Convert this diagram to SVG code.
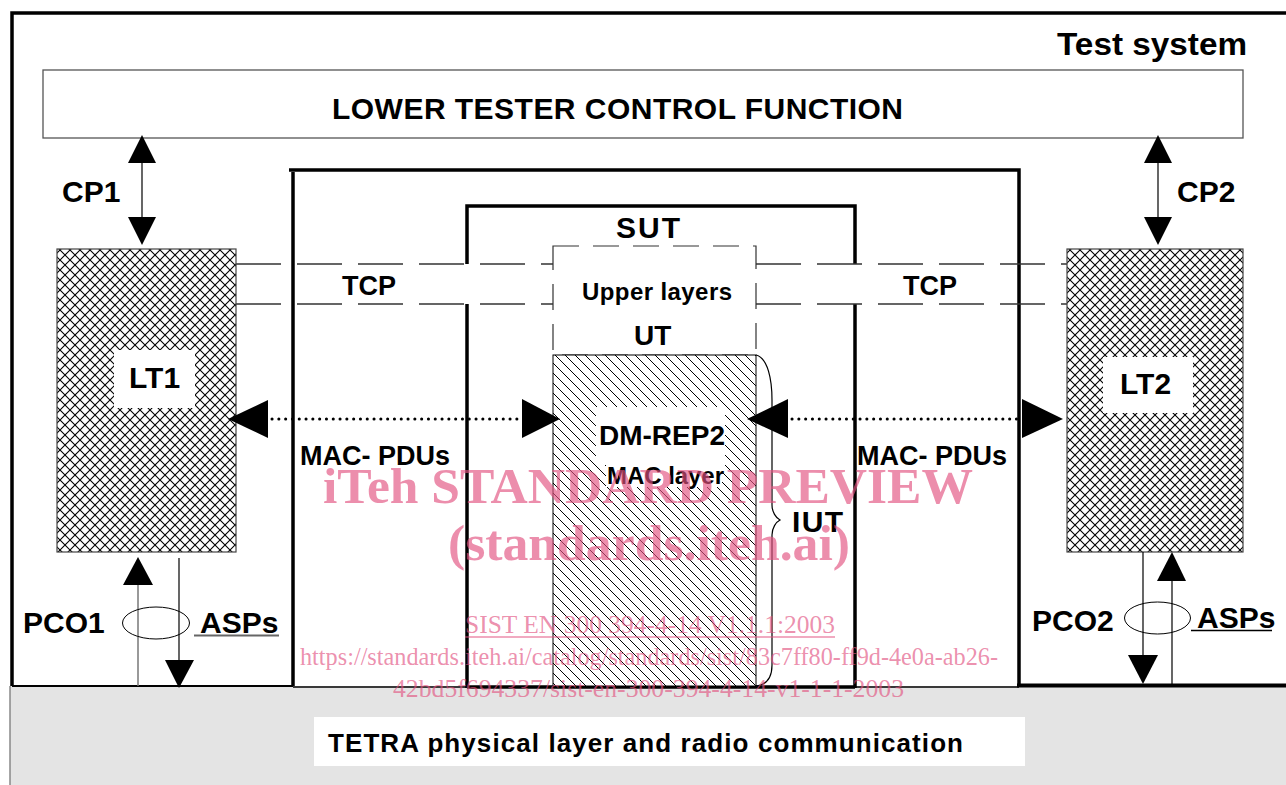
<svg xmlns="http://www.w3.org/2000/svg" width="1286" height="785" viewBox="0 0 1286 785">
<defs>
<pattern id="cross" patternUnits="userSpaceOnUse" width="10" height="10">
<rect width="10" height="10" fill="#fff"/>
<path d="M0,0 L10,10 M10,0 L0,10" stroke="#000" stroke-width="1.1"/>
</pattern>
<pattern id="diag" patternUnits="userSpaceOnUse" width="10" height="10">
<rect width="10" height="10" fill="#fff"/>
<path d="M-2,8 L2,12 M0,0 L10,10 M8,-2 L12,2" stroke="#000" stroke-width="1"/>
</pattern>
<style>
.t{font-family:"Liberation Sans",Arial,sans-serif;font-weight:bold;fill:#000}
.wm{font-family:"Liberation Serif","Times New Roman",serif;fill:#e2517f;fill-opacity:0.65}
.frame{fill:none;stroke:#000;stroke-width:3.5}
.dash{fill:none;stroke:#333;stroke-width:1.4;stroke-dasharray:45 16}
.thin{stroke:#000;stroke-width:1.2;fill:none}
.ah{fill:#000}
.dot{stroke:#000;stroke-width:3;stroke-dasharray:0.1 6.7;stroke-linecap:round;fill:none}
</style>
</defs>
<rect width="1286" height="785" fill="#fff"/>

<g id="ground">
<rect x="10" y="686" width="1276" height="99" fill="#e4e4e4"/>
<line x1="10" y1="686" x2="10" y2="785" stroke="#888" stroke-width="1.5"/>
<rect x="314" y="717" width="711" height="49" fill="#fff"/>
<text class="t" x="328" y="752" font-size="26" textLength="635" lengthAdjust="spacing">TETRA physical layer and radio communication</text>
</g>

<g id="test-system">
<path class="frame" d="M12,686 V13 H1286" stroke-width="3"/>
<text class="t" x="1057" y="55" font-size="31" textLength="190" lengthAdjust="spacingAndGlyphs">Test system</text>
</g>

<g id="ltcf">
<rect x="43" y="70" width="1200" height="68" fill="#fff" stroke="#555" stroke-width="1.3"/>
<text class="t" x="332" y="119" font-size="30" textLength="571" lengthAdjust="spacing">LOWER TESTER CONTROL FUNCTION</text>
</g>

<g id="frame2">
<path class="frame" d="M289,170 H1019 V686"/>
<line class="frame" x1="293" y1="172" x2="293" y2="686"/>
</g>

<g id="sut">
<path class="frame" d="M467,264 V206 H855 V264"/>
<line class="frame" x1="467" y1="304" x2="467" y2="688"/>
<line class="frame" x1="855" y1="304" x2="855" y2="688"/>
<text class="t" x="616" y="238" font-size="30" textLength="64" lengthAdjust="spacing">SUT</text>
</g>

<g id="bottom-lines">
<line x1="12" y1="686" x2="293" y2="686" stroke="#000" stroke-width="2.2"/>
<line x1="293" y1="687" x2="467" y2="687" stroke="#000" stroke-width="1.5"/>
<line x1="467" y1="687" x2="855" y2="687" stroke="#000" stroke-width="3.5"/>
<line x1="855" y1="687" x2="1019" y2="687" stroke="#000" stroke-width="1.5"/>
<line x1="1017" y1="685.5" x2="1286" y2="685.5" stroke="#000" stroke-width="4"/>
</g>

<g id="tcp-left">
<line class="dash" x1="236" y1="264" x2="553" y2="264"/>
<line class="dash" x1="236" y1="304" x2="553" y2="304"/>
<text class="t" x="342" y="295" font-size="27">TCP</text>
</g>
<g id="tcp-right">
<line class="dash" x1="756" y1="264" x2="1067" y2="264"/>
<line class="dash" x1="756" y1="304" x2="1067" y2="304"/>
<text class="t" x="903" y="295" font-size="27">TCP</text>
</g>

<g id="upper-layers">
<rect x="553" y="246" width="203" height="109" fill="#fff" stroke="#333" stroke-width="1.2" stroke-dasharray="26 14"/>
<text class="t" x="582" y="300" font-size="24" textLength="150" lengthAdjust="spacing">Upper layers</text>
<text class="t" x="634" y="345" font-size="28">UT</text>
</g>

<g id="iut">
<rect x="553" y="355" width="203" height="331" fill="url(#diag)" stroke="#000" stroke-width="1"/>
<rect x="596" y="407" width="129" height="58" fill="#fff"/>
<rect x="606" y="465" width="116" height="22" fill="#fff"/>
<text class="t" x="599" y="445" font-size="28" textLength="126" lengthAdjust="spacing">DM-REP2</text>
<text class="t" x="607" y="484" font-size="24" textLength="117" lengthAdjust="spacing">MAC layer</text>
<path class="thin" d="M756,355 C768,358 772,380 772,400 L772,505 C772,512 776,518 780,520 C776,522 772,528 772,535 L772,665 C772,680 765,685 756,686"/>
<text class="t" x="792" y="532" font-size="30" textLength="51" lengthAdjust="spacing">IUT</text>
</g>

<g id="lt1">
<rect x="57" y="249" width="179" height="303" fill="url(#cross)" stroke="#444" stroke-width="1.2"/>
<rect x="114" y="350" width="81" height="58" fill="#fff"/>
<text class="t" x="129" y="388" font-size="30">LT1</text>
</g>

<g id="lt2">
<rect x="1067" y="249" width="176" height="303" fill="url(#cross)" stroke="#444" stroke-width="1.2"/>
<rect x="1103" y="357" width="90" height="56" fill="#fff"/>
<text class="t" x="1120" y="394" font-size="30">LT2</text>
</g>

<g id="connectors">
<!-- CP1 -->
<line class="thin" x1="142" y1="150" x2="142" y2="230"/>
<polygon class="ah" points="142,135 128,163 156,163"/>
<polygon class="ah" points="142,245 128,217 156,217"/>
<!-- CP2 -->
<line class="thin" x1="1158" y1="150" x2="1158" y2="230"/>
<polygon class="ah" points="1158,135 1144,163 1172,163"/>
<polygon class="ah" points="1158,245 1144,217 1172,217"/>
<!-- MAC PDUs left -->
<line class="dot" x1="272" y1="419" x2="520" y2="419"/>
<polygon class="ah" points="228,419 268,400 268,438"/>
<polygon class="ah" points="560,419 522,399 522,438"/>
<!-- MAC PDUs right -->
<line class="dot" x1="792" y1="419" x2="1020" y2="419"/>
<polygon class="ah" points="747,419 788,399 788,438"/>
<polygon class="ah" points="1063,419 1022,399 1022,438"/>
<!-- PCO1 -->
<line x1="138" y1="570" x2="138" y2="686" stroke="#777" stroke-width="1.5"/>
<polygon class="ah" points="138,557 123,585 153,585"/>
<line class="thin" x1="179" y1="558" x2="179" y2="670"/>
<polygon class="ah" points="179,688 165,660 194,660"/>
<!-- PCO2 -->
<line class="thin" x1="1143" y1="552" x2="1143" y2="665"/>
<polygon class="ah" points="1143,684 1128,655 1158,655"/>
<line class="thin" x1="1172" y1="570" x2="1172" y2="686"/>
<polygon class="ah" points="1172,552 1157,581 1186,581"/>
</g>

<g id="cp-labels">
<text class="t" x="62" y="202" font-size="30">CP1</text>
<text class="t" x="1177" y="202" font-size="30">CP2</text>
</g>

<g id="pco1">
<ellipse cx="156" cy="623" rx="33.5" ry="16" fill="none" stroke="#000" stroke-width="1"/>
<text class="t" x="23" y="633" font-size="30">PCO1</text>
<text class="t" x="200" y="633" font-size="30">ASPs</text>
<line x1="194" y1="635.5" x2="279" y2="635.5" stroke="#666" stroke-width="1.8"/>
</g>

<g id="pco2">
<ellipse cx="1157.5" cy="618" rx="33" ry="16" fill="none" stroke="#000" stroke-width="1"/>
<text class="t" x="1032" y="631" font-size="30">PCO2</text>
<text class="t" x="1197" y="628" font-size="30">ASPs</text>
<line x1="1191" y1="630.5" x2="1272" y2="630.5" stroke="#000" stroke-width="1.3"/>
</g>

<g id="mac-pdus">
<text class="t" x="300" y="465" font-size="27">MAC- PDUs</text>
<text class="t" x="857" y="465" font-size="27">MAC- PDUs</text>
</g>

<g id="watermark">
<text class="wm" x="323" y="503" font-size="51" font-weight="bold" textLength="650" lengthAdjust="spacingAndGlyphs">iTeh STANDARD PREVIEW</text>
<text class="wm" x="448" y="560" font-size="51" font-weight="bold" textLength="402" lengthAdjust="spacingAndGlyphs">(standards.iteh.ai)</text>
<text class="wm" x="465" y="633" font-size="26" textLength="370" lengthAdjust="spacingAndGlyphs">SIST EN 300 394-4-14 V1.1.1:2003</text>
<line x1="465" y1="637" x2="835" y2="637" stroke="#e2517f" stroke-opacity="0.65" stroke-width="1.3"/>
<text class="wm" x="300" y="665" font-size="26" textLength="698" lengthAdjust="spacingAndGlyphs">https://standards.iteh.ai/catalog/standards/sist/83c7ff80-ff9d-4e0a-ab26-</text>
<text class="wm" x="393" y="697" font-size="26" textLength="511" lengthAdjust="spacingAndGlyphs">42bd5f694337/sist-en-300-394-4-14-v1-1-1-2003</text>
</g>
</svg>
